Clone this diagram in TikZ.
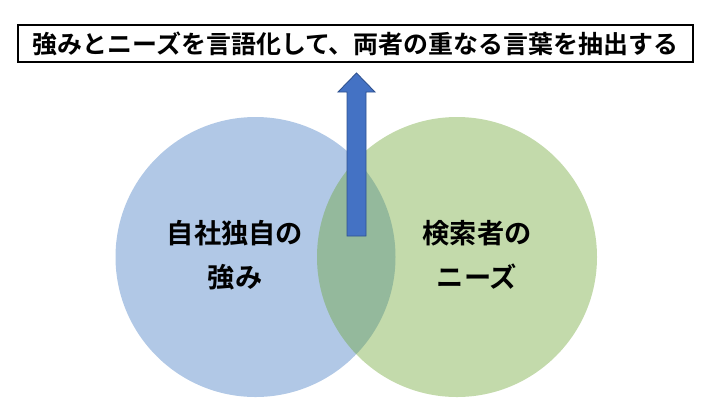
\documentclass[tikz,border=0pt]{standalone}
\usepackage{fontspec}
\newfontfamily\jpfont{Noto Sans CJK JP}[BoldFont={Noto Sans CJK JP Bold}]
\definecolor{accblue}{HTML}{3C76C0}
\definecolor{accgreen}{HTML}{69A22D}
\definecolor{arrowfill}{HTML}{4472C4}
\definecolor{arrowline}{HTML}{2F528F}
\tikzset{
every picture/.style={
line width=1pt
},
venn/.style={fill opacity=0.4},
circtext/.style={font=\jpfont\bfseries\fontsize{15.5}{25}\selectfont, align=center},
titlebox/.style={draw, line width=1.4pt, font=\jpfont\bfseries\fontsize{14.2}{17}\selectfont,
  minimum width=675*0.02cm, minimum height=37*0.02cm, inner sep=0pt}
}

\begin{document}
\begin{tikzpicture}[x=0.02cm, y=-0.02cm]
\useasboundingbox (0,0) rectangle (710,414);

% the two circles
\fill [accblue, venn] (255.5,257) circle (140);
\fill [accgreen, venn] (457,257) circle (140);

\node [circtext] (own) at (235,255) {自社独自の\\強み};
\node [circtext] (needs) at (477,255) {検索者の\\ニーズ};

% title on top
\node [titlebox] (title) at (355.5,43.5) {強みとニーズを言語化して、両者の重なる言葉を抽出する};

% block arrow up to the title
\filldraw [fill=arrowfill, draw=arrowline, line width=0.5pt]
  (347,236) -- (347,92) -- (338,92) -- (356.5,73) -- (375,92) -- (366,92) -- (366,236) -- cycle;
\end{tikzpicture}
\end{document}
